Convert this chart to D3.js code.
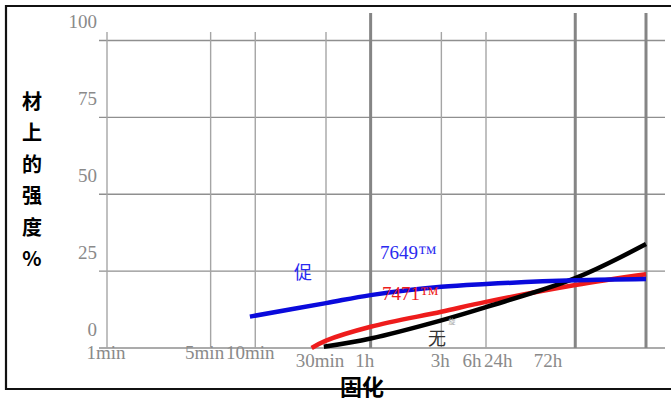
<!DOCTYPE html>
<html><head><meta charset="utf-8">
<script src="https://cdn.jsdelivr.net/npm/d3@7"></script>
<style>
html,body{margin:0;padding:0;background:#fff;}
svg{display:block;}
</style></head>
<body>
<script>
// ---- data ----
const timeTicks = [1, 5, 10, 30, 60, 180, 360, 1440, 4320]; // minutes
const timeLabels = ["1min", "5min", "10min", "30min", "1h", "3h", "6h", "24h", "72h"];
const thickTicks = [60, 1440, 4320];
const yTicks = [0, 25, 50, 75, 100];
const yTitle = ["材", "上", "的", "强", "度", "%"];
const xTitle = "固化";

const series7649 = { name: "7649™", minutes: [9.2, 30, 60, 180, 360, 1440, 4320], values: [10.2, 14.6, 17.2, 19.9, 20.8, 22.0, 22.4] };
const series7471 = { name: "7471™", minutes: [24, 30, 60, 180, 360, 1440, 4320], values: [0, 2.4, 6.9, 11.8, 15.0, 20.5, 24.0] };
const seriesNone = { name: "无", minutes: [29, 60, 180, 360, 1440, 4320], values: [0.4, 3.1, 9.0, 13.3, 22.7, 33.8] };

// ---- layout ----
const W = 671, H = 401;
const svg = d3.select("body").append("svg").attr("width", W).attr("height", H);

const x = d3.scaleLog().domain([1, 4320]).range([107, 646]);
const y = d3.scaleLinear().domain([0, 100]).range([348, 40.5]);

// frame
svg.append("path").attr("d", "M671,6 H6 V389 H671").attr("fill", "none").attr("stroke", "#111").attr("stroke-width", 2.2);

// horizontal grid
svg.append("g").selectAll("line").data(yTicks).join("line")
  .attr("x1", 99).attr("x2", 665)
  .attr("y1", d => y(d)).attr("y2", d => y(d))
  .attr("stroke", "#8f8f8f").attr("stroke-width", 1.4);

// vertical grid
svg.append("g").selectAll("line").data(timeTicks).join("line")
  .attr("x1", d => x(d)).attr("x2", d => x(d))
  .attr("y1", d => thickTicks.includes(d) ? 13 : 32).attr("y2", 348)
  .attr("stroke", d => thickTicks.includes(d) ? "#858585" : "#a5a5a5")
  .attr("stroke-width", d => thickTicks.includes(d) ? 3 : 1.4);

// y tick labels
svg.append("g").selectAll("text").data(yTicks).join("text")
  .attr("x", 97).attr("y", d => y(d) - 19)
  .attr("text-anchor", "end").attr("dominant-baseline", "central")
  .attr("font-family", "Liberation Serif, serif").attr("font-size", 19)
  .attr("fill", "#8a8a8a").text(d => d);

// x tick labels (shifted as in the original)
const labelShift = [-1, -6, -5, -6, -6, -1, -14, -77, -98];
const labelDy = [352, 352, 352, 360, 360, 360, 360, 360, 360];
svg.append("g").selectAll("text").data(timeTicks).join("text")
  .attr("x", (d, i) => x(d) + labelShift[i]).attr("y", (d, i) => labelDy[i])
  .attr("text-anchor", "middle").attr("dominant-baseline", "central")
  .attr("font-family", "Liberation Serif, serif").attr("font-size", 19)
  .attr("fill", "#8a8a8a").text((d, i) => timeLabels[i]);

// y title
svg.append("g").selectAll("text").data(yTitle).join("text")
  .attr("x", 32).attr("y", (d, i) => 100 + i * 31.5)
  .attr("text-anchor", "middle").attr("dominant-baseline", "central")
  .attr("font-family", "Noto Sans CJK SC, sans-serif").attr("font-weight", "bold")
  .attr("font-size", 20).attr("fill", "#000").text(d => d);

// x title
svg.append("text").attr("x", 362).attr("y", 385)
  .attr("text-anchor", "middle").attr("dominant-baseline", "central")
  .attr("font-family", "Noto Sans CJK SC, sans-serif").attr("font-weight", "bold")
  .attr("font-size", 22).attr("fill", "#000").text(xTitle);

// curves
const line = d3.line().x(d => x(d[0])).y(d => y(d[1])).curve(d3.curveCatmullRom.alpha(0.5));
function drawSeries(s, color, w) {
  const pts = s.minutes.map((m, i) => [m, s.values[i]]);
  svg.append("path").attr("d", line(pts)).attr("fill", "none")
    .attr("stroke", color).attr("stroke-width", w).attr("stroke-linecap", "butt");
}
drawSeries(series7471, "#ee1c1c", 4.5);
drawSeries(seriesNone, "#000", 4.5);
drawSeries(series7649, "#0a0adc", 4.5);

// annotations
svg.append("text").attr("x", 303).attr("y", 271).attr("text-anchor", "middle").attr("dominant-baseline", "central")
  .attr("font-family", "Noto Sans CJK SC, sans-serif").attr("font-size", 18).attr("fill", "#2a2af0").text("促");
svg.append("text").attr("x", 380).attr("y", 252).attr("dominant-baseline", "central")
  .attr("font-family", "Liberation Serif, serif").attr("font-size", 19).attr("fill", "#2a2af0").text(series7649.name);
svg.append("text").attr("x", 382).attr("y", 293).attr("dominant-baseline", "central")
  .attr("font-family", "Liberation Serif, serif").attr("font-size", 19).attr("fill", "#ee1c1c").text(series7471.name);
svg.append("text").attr("x", 437).attr("y", 337).attr("text-anchor", "middle").attr("dominant-baseline", "central")
  .attr("font-family", "Noto Sans CJK SC, sans-serif").attr("font-size", 18).attr("fill", "#333").text(seriesNone.name);
svg.append("text").attr("x", 452).attr("y", 321).attr("text-anchor", "middle").attr("dominant-baseline", "central")
  .attr("font-family", "Noto Sans CJK SC, sans-serif").attr("font-size", 7).attr("fill", "#aaa").text("旋");
</script>
</body></html>
